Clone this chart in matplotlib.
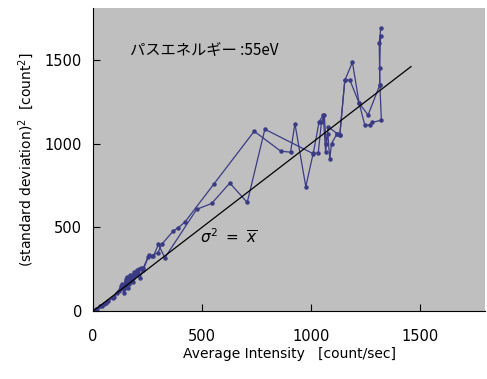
import matplotlib
matplotlib.use('Agg')
from matplotlib import pyplot as plt

plt.rcParams['font.family'] = ['DejaVu Sans', 'Noto Sans CJK JP']

# outgoing sweep (upper branch)
up_x = [0, 15, 30, 50, 70, 95, 120, 128, 135, 140, 150, 145, 160, 155, 170, 165,
        180, 175, 190, 185, 200, 195, 210, 205, 220, 230, 254, 269, 298, 315,
        368, 391, 422, 555, 740, 862, 907, 927, 977, 1011, 1034, 1049, 1062, 1070,
        1078, 1087, 1095, 1121, 1133, 1156, 1191, 1222, 1248, 1274, 1283, 1324,
        1317, 1314, 1321]
up_y = [0, 12, 28, 45, 60, 85, 120, 140, 165, 130, 190, 150, 170, 205, 200, 160,
        215, 180, 235, 200, 245, 215, 250, 225, 260, 245, 325, 331, 349, 398,
        478, 498, 532, 759, 1074, 955, 949, 1120, 743, 943, 943, 1131, 1170, 1000,
        1060, 909, 1000, 1060, 1050, 1377, 1486, 1241, 1110, 1114, 1127, 1140,
        1351, 1600, 1688]

# return sweep (lower branch)
dn_x = [1320, 1316, 1317, 1263, 1222, 1179, 1156, 1133, 1121, 1080, 1068, 1057,
        1038, 1011, 789, 708, 628, 545, 476, 330, 300, 277, 257, 230, 215, 200,
        185, 170, 160, 150, 140, 130, 110, 90, 60, 40, 20, 0]
dn_y = [1640, 1450, 1351, 1171, 1241, 1381, 1377, 1050, 1060, 1100, 950, 1171,
        1131, 940, 1086, 649, 765, 643, 608, 319, 398, 327, 337, 255, 195, 225,
        175, 215, 140, 180, 110, 150, 110, 80, 50, 30, 15, 0]

# sigma^2 = mean reference line
ref_x = [0, 1460]
ref_y = [0, 1460]

series_color = '#3b3b85'

fig = plt.figure(figsize=(4.87, 3.79), dpi=100)
ax = fig.add_axes([0.191, 0.179, 0.805, 0.80])
ax.set_facecolor('#bfbfbf')

ax.plot(up_x, up_y, color=series_color, lw=0.9, marker='o', ms=2.2)
ax.plot(dn_x, dn_y, color=series_color, lw=0.9, marker='o', ms=2.2)
ax.plot(ref_x, ref_y, color='black', lw=0.9)

ax.set_xlim(0, 1800)
ax.set_ylim(0, 1810)
ax.set_xticks([0, 500, 1000, 1500])
ax.set_yticks([0, 500, 1000, 1500])
ax.tick_params(direction='in', length=5, labelsize=10.5, pad=8)
ax.tick_params(axis='x', pad=13)
for s in ['top', 'right']:
    ax.spines[s].set_visible(False)

ax.set_xlabel('Average Intensity   [count/sec]', fontsize=10, labelpad=2)
ax.set_ylabel(r'(standard deviation)$^2$  [count$^2$]', fontsize=10, labelpad=6)

ax.text(170, 1560, 'パスエネルギー :55eV', fontsize=11,
        family=['Noto Sans CJK JP', 'DejaVu Sans'], va='center')
ax.text(490, 440, r'$\sigma^2\ =\ \overline{x}$', fontsize=11, va='center')

fig.savefig('out.png', dpi=100)
